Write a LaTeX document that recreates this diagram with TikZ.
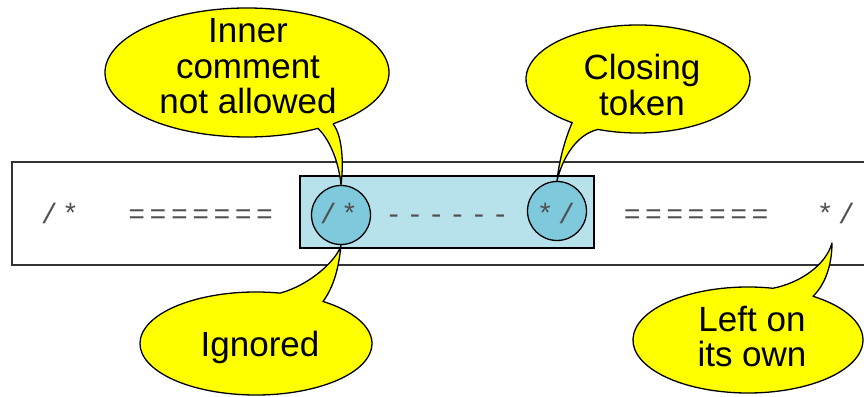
\documentclass[tikz,border=0pt]{standalone}
\usepackage{fontspec}
\setmainfont{Liberation Sans}
\newfontfamily\codefont{Liberation Mono}
\definecolor{bandline}{HTML}{333333}
\definecolor{codegray}{HTML}{505050}
\definecolor{boxblue}{HTML}{B7E2EC}
\definecolor{tokblue}{HTML}{7EC9DC}
\definecolor{calloutyellow}{HTML}{FFFF00}
% fixed-width cells so each character sits on a monospaced grid
\def\cells#1{\cellsaux#1\relax}
\def\cellsaux#1{\ifx#1\relax\else\makebox[21.3pt]{#1}\expandafter\cellsaux\fi}
\tikzset{
  band/.style={draw=bandline, line width=1.8pt, fill=white},
  spanbox/.style={draw=black, line width=1.3pt, fill=boxblue},
  tok/.style={circle, draw=black, line width=1.3pt, fill=tokblue, minimum size=59pt, inner sep=0pt},
  code/.style={anchor=base west, inner sep=0pt, text=codegray, font=\codefont\fontsize{28}{30}\selectfont},
  bubble/.style={draw=black, line width=1.3pt, fill=calloutyellow, line join=round},
  bubbletext/.style={align=center, inner sep=0pt, font=\fontsize{35}{35.5}\selectfont}
}
\begin{document}
\begin{tikzpicture}[x=1pt, y=1pt]
\useasboundingbox (0,0) rectangle (864,396);

% the source line
\draw[band] (870,234) -- (12,234) -- (12,131) -- (870,131);
\draw[spanbox] (300,148) rectangle (594,220);

% the two tokens inside the span
\node[tok] (lc) at (341,181) {};
\node[tok] (rc) at (557,185) {};

% characters of the line
\node[code] (open1) at (38.4,172) {\cells{/*}};
\node[code] (eq1)   at (126,172)  {\cells{=======}};
\node[code] (open2) at (317.4,172) {\cells{/*}};
\node[code] (dash)  at (382.9,172) {\cells{------}};
\node[code] (close1) at (534.4,172) {\cells{*/}};
\node[code] (eq2)   at (621.4,172) {\cells{=======}};
\node[code] (close2) at (814.4,172) {\cells{*/}};
\coordinate (loose) at (832,153);

% callout centres and tail roots
\coordinate (b1) at (247,323.5);
\coordinate (b2) at (638,317);
\coordinate (b3) at (256,52.5);
\coordinate (b4) at (748,56);
\path (b1) ++(-52.7:142pt and 64.5pt) coordinate (b1s);
\path (b2) ++(249:112pt and 54pt) coordinate (b2s);
\path (b3) ++(78:116pt and 51.5pt) coordinate (b3s);
\path (b4) ++(77.5:115pt and 53pt) coordinate (b4s);

% speech bubbles
\draw[bubble] (b1s) arc[start angle=-52.7, end angle=300, x radius=142pt, y radius=64.5pt]
  .. controls (331,255) and (339,232) .. (lc.north)
  .. controls (343,226) and (344,258) .. (b1s);
\draw[bubble] (b2s) arc[start angle=249, end angle=594, x radius=112pt, y radius=54pt]
  .. controls (565,257) and (559,235) .. (rc.north)
  .. controls (562,236) and (575,261) .. (b2s);
\draw[bubble] (b3s) arc[start angle=78, end angle=414.7, x radius=116pt, y radius=51.5pt]
  .. controls (335,111) and (339,131) .. (lc.south)
  .. controls (337,136) and (310,111) .. (b3s);
\draw[bubble] (b4s) arc[start angle=77.5, end angle=415.6, x radius=115pt, y radius=53pt]
  .. controls (825,111) and (832,131) .. (loose)
  .. controls (826,131) and (800,113) .. (b4s);

\node[bubbletext] (t1) at (248,329.5) {Inner\\comment\\not allowed};
\node[bubbletext] (t2) at (642,311.25) {Closing\\token};
\node[bubbletext] (t3) at (260,48.5) {Ignored};
\node[bubbletext] (t4) at (752,59.25) {Left on\\its own};
\end{tikzpicture}
\end{document}
